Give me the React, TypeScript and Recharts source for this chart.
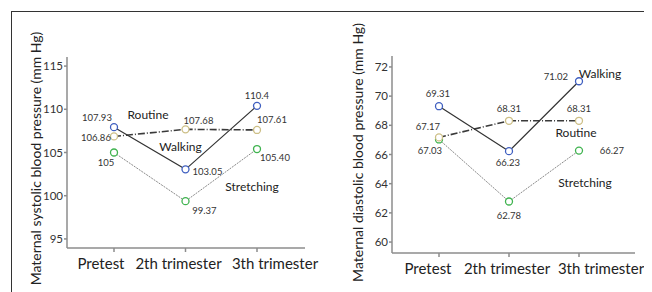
import React from "react";
import { LineChart, Line, XAxis, YAxis } from "recharts";

// data as printed on the figure
const stages = ["Pretest", "2th trimester", "3th trimester"];

const systolicWalking = ["107.93", "103.05", "110.4"];
const systolicRoutine = ["106.86", "107.68", "107.61"];
const systolicStretching = ["105", "99.37", "105.40"];
const systolicTicks = [95, 100, 105, 110, 115];

const diastolicWalking = ["69.31", "66.23", "71.02"];
const diastolicRoutine = ["67.17", "68.31", "68.31"];
const diastolicStretching = ["67.03", "62.78", "66.27"];
const diastolicTicks = [60, 62, 64, 66, 68, 70, 72];

const FONT = "Lato, 'Open Sans', sans-serif";
const COLORS = { walking: "#3f5fc0", routine: "#cdbf86", stretching: "#3fb34f" };

type Offset = [number, number];
type SeriesLayout = { offsets: Offset[]; name: string; nameIndex: number; nameOffset: Offset };

type PanelProps = {
  left: number;
  title: string;
  walking: string[];
  routine: string[];
  stretching: string[];
  ticks: number[];
  domain: [number, number];
  margin: { top: number; right: number; left: number; bottom: number };
  padding: { left: number; right: number };
  tickShift: number[];
  titleDy: number;
  layout: { walking: SeriesLayout; routine: SeriesLayout; stretching: SeriesLayout };
};

function makeLabel(texts: string[], cfg: SeriesLayout) {
  return (props: any) => {
    const { x, y, index } = props;
    const [dx, dy] = cfg.offsets[index];
    return (
      <g key={`l-${cfg.name}-${index}`}>
        <text x={x + dx} y={y + dy} textAnchor="middle" dominantBaseline="central" fontSize={9.5} fill="#333" fontFamily={FONT}>
          {texts[index]}
        </text>
        {index === cfg.nameIndex ? (
          <text x={x + cfg.nameOffset[0]} y={y + cfg.nameOffset[1]} textAnchor="middle" dominantBaseline="central" fontSize={12} fill="#222" fontFamily={FONT}>
            {cfg.name}
          </text>
        ) : null}
      </g>
    );
  };
}

function makeDot(color: string) {
  return (props: any) => (
    <circle key={`d-${color}-${props.index}`} cx={props.cx} cy={props.cy} r={3.5} stroke={color} strokeWidth={1.3} fill="#fff" />
  );
}

function Panel(p: PanelProps) {
  const data = stages.map((stage, i) => ({
    stage,
    walking: Number(p.walking[i]),
    routine: Number(p.routine[i]),
    stretching: Number(p.stretching[i]),
  }));
  const boxColor = "#8c8c8c";
  return (
    <div style={{ position: "absolute", left: p.left, top: 0 }}>
      <LineChart width={320} height={284} data={data} margin={p.margin}>
        <XAxis
          dataKey="stage"
          type="category"
          padding={p.padding}
          height={30}
          tickSize={4}
          tickMargin={6}
          stroke={boxColor}
          strokeWidth={1.5}
          interval={0}
          tick={(t: any) => (
            <text x={t.x + p.tickShift[t.index]} y={t.y} dy="0.71em" textAnchor="middle" fontSize={15} fill="#222" fontFamily={FONT}>
              {t.payload.value}
            </text>
          )}
        />
        <XAxis xAxisId="top" orientation="top" dataKey="stage" height={0} tick={false} tickLine={false} stroke={boxColor} strokeWidth={1.5} />
        <YAxis
          domain={p.domain}
          ticks={p.ticks}
          type="number"
          allowDataOverflow
          width={40}
          tickSize={3}
          tickMargin={1}
          stroke={boxColor}
          strokeWidth={1.5}
          tick={{ fill: "#333", fontSize: 11.5, fontFamily: FONT }}
          label={{
            content: ({ viewBox }: any) => {
              const cy = viewBox.y + viewBox.height / 2 + p.titleDy;
              return (
                <text x={27} y={cy} transform={`rotate(-90 27 ${cy})`} textAnchor="middle" dominantBaseline="central" fontSize={14} fill="#222" fontFamily={FONT}>
                  {p.title}
                </text>
              );
            },
          }}
        />
        <YAxis yAxisId="right" orientation="right" domain={p.domain} type="number" width={0} tick={false} tickLine={false} stroke={boxColor} strokeWidth={1.5} />
        <Line
          dataKey="stretching"
          stroke="#8a8a8a"
          strokeWidth={1}
          strokeDasharray="2 1"
          dot={makeDot(COLORS.stretching)}
          label={makeLabel(p.stretching, p.layout.stretching)}
          isAnimationActive={false}
        />
        <Line
          dataKey="routine"
          stroke="#3a3a3a"
          strokeWidth={1.6}
          strokeDasharray="7 2 1 2"
          dot={makeDot(COLORS.routine)}
          label={makeLabel(p.routine, p.layout.routine)}
          isAnimationActive={false}
        />
        <Line
          dataKey="walking"
          stroke="#333"
          strokeWidth={1.2}
          dot={makeDot(COLORS.walking)}
          label={makeLabel(p.walking, p.layout.walking)}
          isAnimationActive={false}
        />
      </LineChart>
    </div>
  );
}

export default function App() {
  return (
    <div style={{ position: "relative", width: 644, height: 284, overflow: "hidden", background: "#fff" }}>
      <div style={{ position: "absolute", left: 3, top: 3, width: 641, height: 281, borderTop: "1.5px solid #333", borderLeft: "1.5px solid #333" }} />
      <Panel
        left={0}
        title="Maternal systolic blood pressure (mm Hg)"
        walking={systolicWalking}
        routine={systolicRoutine}
        stretching={systolicStretching}
        ticks={systolicTicks}
        domain={[93.95, 116.05]}
        margin={{ top: 49, right: 23, left: 19, bottom: 14 }}
        padding={{ left: 47, right: 48 }}
        tickShift={[-13, -7, 18]}
        titleDy={6}
        layout={{
          walking: { offsets: [[-17, -10], [22, 2], [0, -10]], name: "Walking", nameIndex: 1, nameOffset: [-5, -23] },
          routine: { offsets: [[-18, 1], [13, -9], [15, -10]], name: "Routine", nameIndex: 0, nameOffset: [34, -22] },
          stretching: { offsets: [[-8, 10], [19, 9], [18, 8]], name: "Stretching", nameIndex: 2, nameOffset: [-5, 37] },
        }}
      />
      <Panel
        left={322}
        title="Maternal diastolic blood pressure (mm Hg)"
        walking={diastolicWalking}
        routine={diastolicRoutine}
        stretching={diastolicStretching}
        ticks={diastolicTicks}
        domain={[59.25, 72.75]}
        margin={{ top: 48, right: 15, left: 22, bottom: 9 }}
        padding={{ left: 47, right: 56 }}
        tickShift={[-11, -2, 22]}
        titleDy={-2}
        layout={{
          walking: { offsets: [[-1, -13], [-1, 11], [-23, -5]], name: "Walking", nameIndex: 2, nameOffset: [21, -8] },
          routine: { offsets: [[-11, -11], [0, -12], [0, -12]], name: "Routine", nameIndex: 2, nameOffset: [-3, 12] },
          stretching: { offsets: [[-9, 11], [0, 14], [33, 0]], name: "Stretching", nameIndex: 2, nameOffset: [6, 32] },
        }}
      />
    </div>
  );
}
